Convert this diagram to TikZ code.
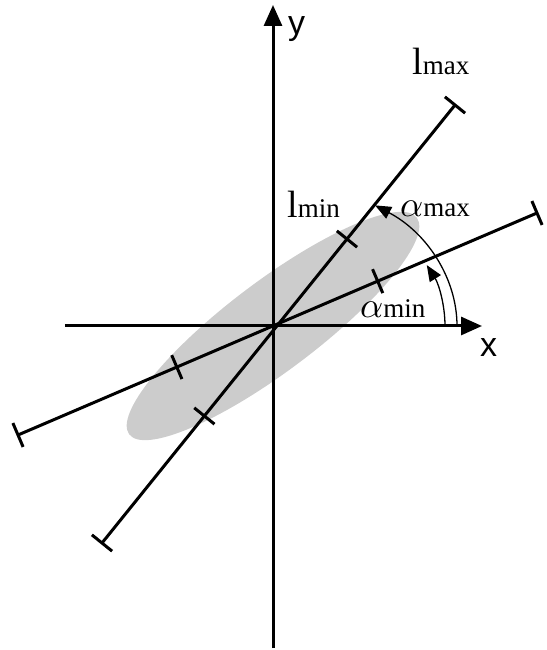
\documentclass[tikz,border=0pt]{standalone}
\usepackage{fix-cm}
\usepackage{fontspec}
\setmainfont{Liberation Serif}
\newfontfamily\axisfont{Liberation Sans}
\usetikzlibrary{arrows.meta,calc}
\newcommand{\bigalpha}{\scalebox{3.6}{$\alpha$}}
\begin{document}
\begin{tikzpicture}[x=1pt,y=1pt,
  axis/.style={line width=3pt,-{Triangle[length=21pt,width=18pt]}},
  mainline/.style={line width=3pt},
  tickmark/.style={line width=3pt},
  anglearc/.style={line width=1.3pt,-{Triangle[length=16pt,width=13pt]}},
  axlabel/.style={font=\axisfont\fontsize{34}{40}\selectfont, inner sep=0pt, anchor=base west},
  seglabel/.style={inner sep=0pt, anchor=base west}]
\useasboundingbox (-273,-324) rectangle (273,326);
\coordinate (O) at (0,0);
\fill[black!20, rotate=37] (O) ellipse [x radius=180, y radius=45];
% axes
\coordinate (ybot) at (0,-322);
\coordinate (ytop) at (0,321);
\coordinate (xl) at (-208,0);
\coordinate (xr) at (209,0);
\draw[axis] (ybot) -- (ytop);
\draw[axis] (xl) -- (xr);
% segments
\coordinate (A1) at (182,221);
\coordinate (A2) at (-171,-217);
\coordinate (B1) at (264,113);
\coordinate (B2) at (-255,-109);
\draw[mainline] (A2) -- (A1);
\draw[mainline] (B2) -- (B1);
\coordinate (A3) at ($(A2)!0.694!(A1)$);
\coordinate (A4) at ($(A2)!0.29!(A1)$);
\coordinate (B3) at ($(B2)!0.693!(B1)$);
\coordinate (B4) at ($(B2)!0.306!(B1)$);
\foreach \p/\q in {A1/A2,A2/A1,A3/A1,A4/A1,B1/B2,B2/B1,B3/B1,B4/B1}
  \draw[tickmark] ($(\p)!13pt!90:(\q)$) -- ($(\p)!13pt!-90:(\q)$);
% angle arcs
\coordinate (C1) at (184,0);
\coordinate (C2) at (172,0);
\draw[anglearc] (C1) arc[start angle=0, end angle=56.3, x radius=184, y radius=145];
\draw[anglearc] (C2) arc[start angle=0, end angle=26.6, x radius=172, y radius=136];
% labels
\node[axlabel] (ylab) at (15,291) {y};
\node[axlabel] (xlab) at (207,-31) {x};
\node[seglabel] (lmax) at (139,251) {\fontsize{38}{40}\selectfont l\fontsize{27}{30}\selectfont max};
\node[seglabel] (lmin) at (14,108) {\fontsize{38}{40}\selectfont l\fontsize{27}{30}\selectfont min};
\node[seglabel] (amax) at (127,109) {\bigalpha\fontsize{27}{30}\selectfont max};
\node[seglabel] (amin) at (87,8) {\bigalpha\fontsize{27}{30}\selectfont min};
\end{tikzpicture}
\end{document}
